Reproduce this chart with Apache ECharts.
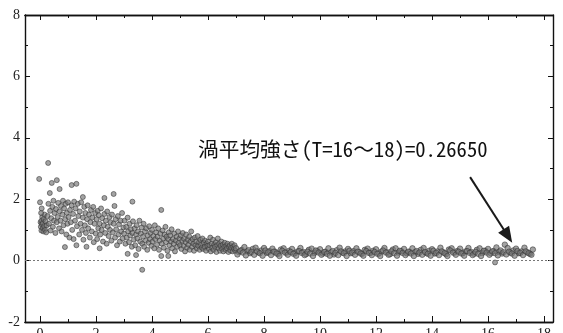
<!DOCTYPE html>
<html><head><meta charset="utf-8">
<script src="https://cdn.jsdelivr.net/npm/echarts@6/dist/echarts.min.js"></script>
<style>html,body{margin:0;padding:0;background:#fff}#c{width:563px;height:333px}</style>
</head><body><div id="c"></div>
<script>
// ---- data (T, vortex strength) ----
const xMajorTicks = [0,2,4,6,8,10,12,14,16,18];
const xMinorTicks = [1,3,5,7,9,11,13,15,17];
const annotationText = '渦平均強さ(T=16～18)=0.26650';
const arrowFrom = [15.36, 2.72];
const arrowTo = [16.71, 0.80];

const transientPts = [
[0.02,1.25],[0.03,1.1],[0.05,1.3],[0.05,0.98],[0.07,1.18],[0.08,1.42],[0.1,1.05],[0.1,1.22],[0.12,0.95],[0.13,1.35],[0.15,1.12],[0.16,1.5],[0.18,1.0],[0.2,1.28],[0.22,0.92],[0.24,1.15],[-0.03,2.66],[0.0,1.9],[0.04,1.55],[0.06,1.7],
[0.27,1.45],[0.29,3.18],[0.3,1.85],[0.32,1.2],[0.35,2.2],[0.36,1.62],[0.38,0.98],[0.4,1.38],[0.42,2.53],[0.44,1.75],[0.46,1.1],[0.48,1.95],[0.5,1.3],[0.52,1.55],[0.55,0.9],[0.57,1.68],[0.6,2.62],[0.6,1.25],[0.63,1.42],[0.65,1.88],[0.68,1.05],[0.7,2.33],[0.7,1.6],[0.73,1.3],[0.75,1.78],[0.77,0.95],[0.8,1.5],[0.82,1.95],[0.84,1.15],[0.86,1.7],[0.89,0.44],[0.9,1.35],[0.92,1.85],[0.94,0.85],[0.96,1.55],[0.98,1.2],
[1.0,1.9],[1.02,1.42],[1.05,0.75],[1.07,1.65],[1.1,1.25],[1.13,2.46],[1.13,1.8],[1.15,1.0],[1.18,1.52],[1.2,0.7],[1.22,1.92],[1.25,1.3],[1.27,1.7],[1.3,2.5],[1.3,0.5],[1.32,1.12],[1.35,1.85],[1.37,1.45],[1.4,0.85],[1.42,1.6],[1.45,1.2],[1.47,1.9],[1.5,1.0],[1.53,2.07],[1.53,1.4],[1.55,0.68],[1.58,1.75],[1.6,1.15],[1.62,1.55],[1.64,0.9],[1.66,0.45],[1.68,1.35],[1.7,1.8],[1.72,1.05],[1.75,1.5],[1.78,0.75],[1.8,1.25],[1.82,1.65],[1.85,0.95],[1.87,1.4],[1.9,1.75],[1.92,0.6],[1.95,1.2],[1.97,1.55],[1.99,0.88],
[2.02,1.35],[2.04,0.7],[2.06,1.62],[2.08,1.05],[2.1,1.48],[2.13,0.4],[2.13,1.2],[2.15,0.85],[2.18,1.7],[2.2,1.0],[2.22,1.38],[2.25,0.62],[2.28,1.15],[2.3,2.04],[2.3,1.52],[2.33,0.9],[2.35,1.3],[2.38,0.55],[2.4,1.6],[2.42,1.1],[2.45,0.8],[2.48,1.42],[2.5,1.0],[2.52,1.25],[2.55,0.65],[2.57,1.5],[2.6,0.92],[2.63,2.17],[2.63,1.2],[2.66,1.78],[2.68,0.75],[2.7,1.35],[2.72,1.02],[2.75,0.5],[2.78,1.45],[2.8,0.85],[2.82,1.18],[2.85,0.62],[2.88,1.3],[2.9,0.95],[2.93,1.55],[2.95,0.72],[2.98,1.08],
[3.0,0.88],[3.02,1.3],[3.05,0.55],[3.08,1.1],[3.1,0.75],[3.13,0.22],[3.13,1.4],[3.15,0.95],[3.18,0.6],[3.2,1.2],[3.22,0.82],[3.25,1.02],[3.28,0.45],[3.3,1.92],[3.3,0.9],[3.32,1.28],[3.35,0.68],[3.38,1.05],[3.4,0.5],[3.43,0.18],[3.43,0.85],[3.45,1.15],[3.48,0.72],[3.5,0.95],[3.52,0.38],[3.55,1.3],[3.58,0.62],[3.6,0.88],[3.63,1.08],[3.65,0.55],[3.68,0.78],[3.7,1.2],[3.72,0.45],[3.75,0.95],[3.78,0.65],[3.8,1.05],[3.83,0.35],[3.85,0.82],[3.88,0.58],[3.9,1.12],[3.93,0.7],[3.95,0.9],[3.98,0.48],
[4.0,1.0],[4.02,0.62],[4.05,0.8],[4.08,0.4],[4.1,1.15],[4.12,0.7],[4.15,0.92],[4.18,0.52],[4.2,0.78],[4.22,1.05],[4.25,0.35],[4.28,0.65],[4.3,0.88],[4.33,1.65],[4.33,0.15],[4.35,0.55],[4.38,0.98],[4.4,0.72],[4.42,0.42],[4.45,0.85],[4.48,1.1],[4.5,0.6],[4.52,0.78],[4.55,0.32],[4.58,0.15],[4.58,0.7],[4.6,0.92],[4.62,0.5],[4.65,0.82],[4.68,0.62],[4.7,1.02],[4.72,0.4],[4.75,0.7],[4.78,0.55],[4.8,0.88],[4.82,0.3],[4.85,0.65],[4.88,0.78],[4.9,0.45],[4.93,0.95],[4.95,0.58],[4.98,0.72],
[5.0,0.5],[5.03,0.82],[5.05,0.38],[5.08,0.65],[5.1,0.9],[5.13,0.48],[5.15,0.7],[5.18,0.3],[5.2,0.6],[5.22,0.85],[5.25,0.42],[5.28,0.68],[5.3,0.52],[5.33,0.78],[5.35,0.35],[5.38,0.62],[5.4,0.95],[5.43,0.45],[5.45,0.7],[5.48,0.55],[5.5,0.32],[5.53,0.75],[5.55,0.5],[5.58,0.62],[5.6,0.4],[5.63,0.8],[5.65,0.48],[5.68,0.6],[5.7,0.35],[5.73,0.68],[5.75,0.52],[5.78,0.42],[5.8,0.72],[5.83,0.38],[5.85,0.58],[5.88,0.45],[5.9,0.65],[5.93,0.32],[5.95,0.55],[5.98,0.48],
[6.0,0.62],[6.03,0.38],[6.05,0.5],[6.08,0.75],[6.1,0.3],[6.13,0.55],[6.15,0.42],[6.18,0.68],[6.2,0.35],[6.23,0.52],[6.25,0.45],[6.28,0.6],[6.3,0.28],[6.33,0.5],[6.35,0.72],[6.38,0.4],[6.4,0.55],[6.43,0.32],[6.45,0.48],[6.48,0.62],[6.5,0.38],[6.53,0.52],[6.55,0.3],[6.58,0.45],[6.6,0.58],[6.63,0.35],[6.65,0.48],[6.68,0.4],[6.7,0.55],[6.73,0.28],[6.75,0.45],[6.78,0.5],[6.8,0.33],[6.83,0.42],[6.85,0.55],[6.88,0.3],[6.9,0.45],[6.93,0.38],[6.95,0.5],[6.98,0.32]
];

const steadyUpperPts = [
[7.0,0.40],[7.1,0.28],[7.2,0.35],[7.3,0.44],[7.4,0.30],[7.5,0.24],[7.6,0.38],[7.7,0.42],[7.8,0.27],[7.9,0.33],
[8.0,0.41],[8.1,0.25],[8.2,0.31],[8.3,0.39],[8.4,0.29],[8.5,0.22],[8.6,0.36],[8.7,0.40],[8.8,0.26],[8.9,0.32],
[9.0,0.38],[9.1,0.24],[9.2,0.30],[9.3,0.41],[9.4,0.28],[9.5,0.21],[9.6,0.35],[9.7,0.39],[9.8,0.25],[9.9,0.31],
[10.0,0.37],[10.1,0.23],[10.2,0.29],[10.3,0.40],[10.4,0.27],[10.5,0.20],[10.6,0.34],[10.7,0.42],[10.8,0.26],[10.9,0.30],
[11.0,0.38],[11.1,0.24],[11.2,0.31],[11.3,0.40],[11.4,0.28],[11.5,0.22],[11.6,0.35],[11.7,0.39],[11.8,0.25],[11.9,0.32],
[12.0,0.37],[12.1,0.23],[12.2,0.30],[12.3,0.41],[12.4,0.27],[12.5,0.21],[12.6,0.36],[12.7,0.40],[12.8,0.26],[12.9,0.31],
[13.0,0.38],[13.1,0.24],[13.2,0.29],[13.3,0.40],[13.4,0.28],[13.5,0.22],[13.6,0.35],[13.7,0.41],[13.8,0.25],[13.9,0.32],
[14.0,0.37],[14.1,0.23],[14.2,0.30],[14.3,0.42],[14.4,0.27],[14.5,0.21],[14.6,0.36],[14.7,0.40],[14.8,0.26],[14.9,0.31],
[15.0,0.39],[15.1,0.24],[15.2,0.30],[15.3,0.41],[15.4,0.28],[15.5,0.22],[15.6,0.35],[15.7,0.40],[15.8,0.25],[15.9,0.32],
[16.0,0.38],[16.1,0.24],[16.2,0.31],[16.3,0.43],[16.4,0.28],[16.5,0.23],[16.6,0.52],[16.7,0.41],[16.8,0.26],[16.9,0.33],
[17.0,0.39],[17.1,0.24],[17.2,0.30],[17.3,0.42],[17.4,0.27],[17.5,0.22],[17.6,0.36]
];

const steadyLowerPts = [
[7.05,0.20],[7.15,0.31],[7.25,0.26],[7.35,0.17],[7.45,0.34],[7.55,0.28],[7.65,0.19],[7.75,0.30],[7.85,0.24],[7.95,0.16],
[8.05,0.33],[8.15,0.27],[8.25,0.18],[8.35,0.29],[8.45,0.23],[8.55,0.15],[8.65,0.32],[8.75,0.26],[8.85,0.19],[8.95,0.28],
[9.05,0.22],[9.15,0.16],[9.25,0.31],[9.35,0.25],[9.45,0.18],[9.55,0.29],[9.65,0.23],[9.75,0.15],[9.85,0.33],[9.95,0.26],
[10.05,0.19],[10.15,0.28],[10.25,0.22],[10.35,0.16],[10.45,0.31],[10.55,0.25],[10.65,0.18],[10.75,0.30],[10.85,0.24],[10.95,0.15],
[11.05,0.32],[11.15,0.26],[11.25,0.19],[11.35,0.29],[11.45,0.23],[11.55,0.16],[11.65,0.31],[11.75,0.25],[11.85,0.18],[11.95,0.28],
[12.05,0.22],[12.15,0.15],[12.25,0.33],[12.35,0.26],[12.45,0.19],[12.55,0.30],[12.65,0.24],[12.75,0.16],[12.85,0.32],[12.95,0.25],
[13.05,0.18],[13.15,0.29],[13.25,0.23],[13.35,0.15],[13.45,0.31],[13.55,0.26],[13.65,0.19],[13.75,0.28],[13.85,0.22],[13.95,0.16],
[14.05,0.32],[14.15,0.25],[14.25,0.18],[14.35,0.30],[14.45,0.24],[14.55,0.15],[14.65,0.33],[14.75,0.26],[14.85,0.19],[14.95,0.29],
[15.05,0.23],[15.15,0.16],[15.25,0.31],[15.35,0.25],[15.45,0.18],[15.55,0.28],[15.65,0.22],[15.75,0.15],[15.85,0.32],[15.95,0.26],
[16.05,0.19],[16.15,0.30],[16.25,0.24],[16.35,0.17],[16.45,0.33],[16.55,0.27],[16.65,0.20],[16.75,0.29],[16.85,0.23],[16.95,0.16],
[17.05,0.31],[17.15,0.25],[17.25,0.18],[17.35,0.30],[17.45,0.24],[17.55,0.19]
];

const outlierPts = [[3.65,-0.3],[16.25,-0.06]];

// ---- chart ----
const X_MIN = -0.536, X_MAX = 18.32;
const serif = 'Liberation Serif';
const dotStyle = { color: 'rgba(120,120,120,0.85)', borderColor: '#333', borderWidth: 0.7 };
const frameLine = { show: true, onZero: false, lineStyle: { color: '#111', width: 1.4 } };

function xAx(pos, ticks, len, labels) {
  return {
    type: 'value', min: X_MIN, max: X_MAX, position: pos,
    axisLine: frameLine, splitLine: { show: false },
    axisTick: { show: true, inside: true, length: len, customValues: ticks, lineStyle: { color: '#111', width: 1 } },
    axisLabel: labels ? { show: true, customValues: ticks, fontFamily: serif, fontSize: 14, color: '#222', margin: 5 } : { show: false }
  };
}
function yAx(pos, labels) {
  return {
    type: 'value', min: -2, max: 8, interval: 2, position: pos,
    axisLine: frameLine, splitLine: { show: false },
    axisTick: { show: true, inside: true, length: 5, lineStyle: { color: '#111', width: 1 } },
    minorTick: { show: true, splitNumber: 2, length: 3, lineStyle: { color: '#111', width: 1 } },
    axisLabel: labels ? { show: true, fontFamily: serif, fontSize: 14, color: '#222', margin: 5 } : { show: false }
  };
}

const chart = echarts.init(document.getElementById('c'), null, { renderer: 'canvas' });
chart.setOption({
  animation: false,
  backgroundColor: '#fff',
  grid: { left: 25, right: 10, top: 15, bottom: 11, containLabel: false, outerBoundsMode: 'none' },
  xAxis: [
    xAx('bottom', xMajorTicks, 6, true),
    xAx('bottom', xMinorTicks, 3, false),
    xAx('top', xMajorTicks, 5, false),
    xAx('top', xMinorTicks, 3, false)
  ],
  yAxis: [ yAx('left', true), yAx('right', false) ],
  graphic: [{
    type: 'text', left: 198, top: 139,
    style: { text: annotationText, font: '20.7px "Noto Sans Mono CJK JP", "Noto Sans CJK JP"', fill: '#111' }
  }],
  series: [
    {
      type: 'scatter', name: 'transient', data: transientPts, symbolSize: 5, itemStyle: dotStyle,
      markLine: {
        silent: true, symbol: 'none', label: { show: false },
        lineStyle: { type: [2, 2], color: '#777', width: 1 },
        data: [{ yAxis: 0 }]
      }
    },
    { type: 'scatter', name: 'steady-upper', data: steadyUpperPts, symbolSize: 5.5, itemStyle: dotStyle },
    { type: 'scatter', name: 'steady-lower', data: steadyLowerPts, symbolSize: 5.5, itemStyle: dotStyle },
    {
      type: 'scatter', name: 'outliers', data: outlierPts, symbolSize: 5, itemStyle: dotStyle,
      markLine: {
        silent: true, symbol: ['none', 'triangle'], symbolSize: [13, 16], label: { show: false },
        lineStyle: { type: 'solid', color: '#1a1a1a', width: 2 },
        data: [[{ coord: arrowFrom }, { coord: arrowTo }]]
      }
    }
  ]
});
</script>
</body></html>
